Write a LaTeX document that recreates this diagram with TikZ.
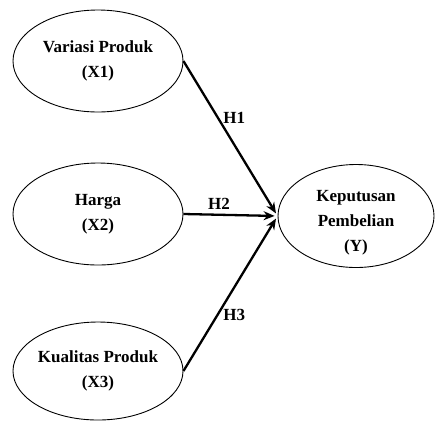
\documentclass[tikz,border=0pt]{standalone}
\usepackage{fontspec}
\setmainfont{Liberation Serif}
\usetikzlibrary{shapes.geometric,arrows.meta}
\tikzset{
    varNode/.style={
		ellipse, draw, line width=0.9pt, minimum width=170pt, minimum height=102pt,
		align=center, font=\fontsize{17}{25}\selectfont\bfseries, inner sep=0pt
	}
}
\tikzset{
    pathArrow/.style={
		line width=2.3pt, -{Stealth[length=11pt,width=9pt]}, shorten >=3pt
	}
}
\tikzset{
    hypLabel/.style={
		font=\fontsize{17}{20}\selectfont\bfseries, inner sep=1pt
	}
}

\begin{document}
\begin{tikzpicture}[x=1pt,y=-1pt]
			\useasboundingbox (0,0) rectangle (435,421);
			\node[varNode] (x1) at (98,61) {Variasi Produk\\(X1)};
			\node[varNode] (x2) at (98,214) {Harga\\(X2)};
			\node[varNode, minimum height=98pt] (x3) at (98,371) {Kualitas Produk\\(X3)};
			\node[varNode, minimum width=156pt, minimum height=103pt,
				label={[align=center, font=\fontsize{17}{25}\selectfont\bfseries, yshift=-7pt]center:Keputusan\\Pembelian\\(Y)}]
				(y) at (356,216) {};
			\draw[pathArrow] (x1.east) -- (y.west) node[hypLabel, pos=0.37, anchor=west, xshift=3pt] {H1};
			\draw[pathArrow] (x2.east) -- (y.west) node[hypLabel, pos=0.24, anchor=south west, yshift=3pt] {H2};
			\draw[pathArrow] (x3.east) -- (y.west) node[hypLabel, pos=0.36, anchor=west, xshift=4pt] {H3};
		\end{tikzpicture}
\end{document}
